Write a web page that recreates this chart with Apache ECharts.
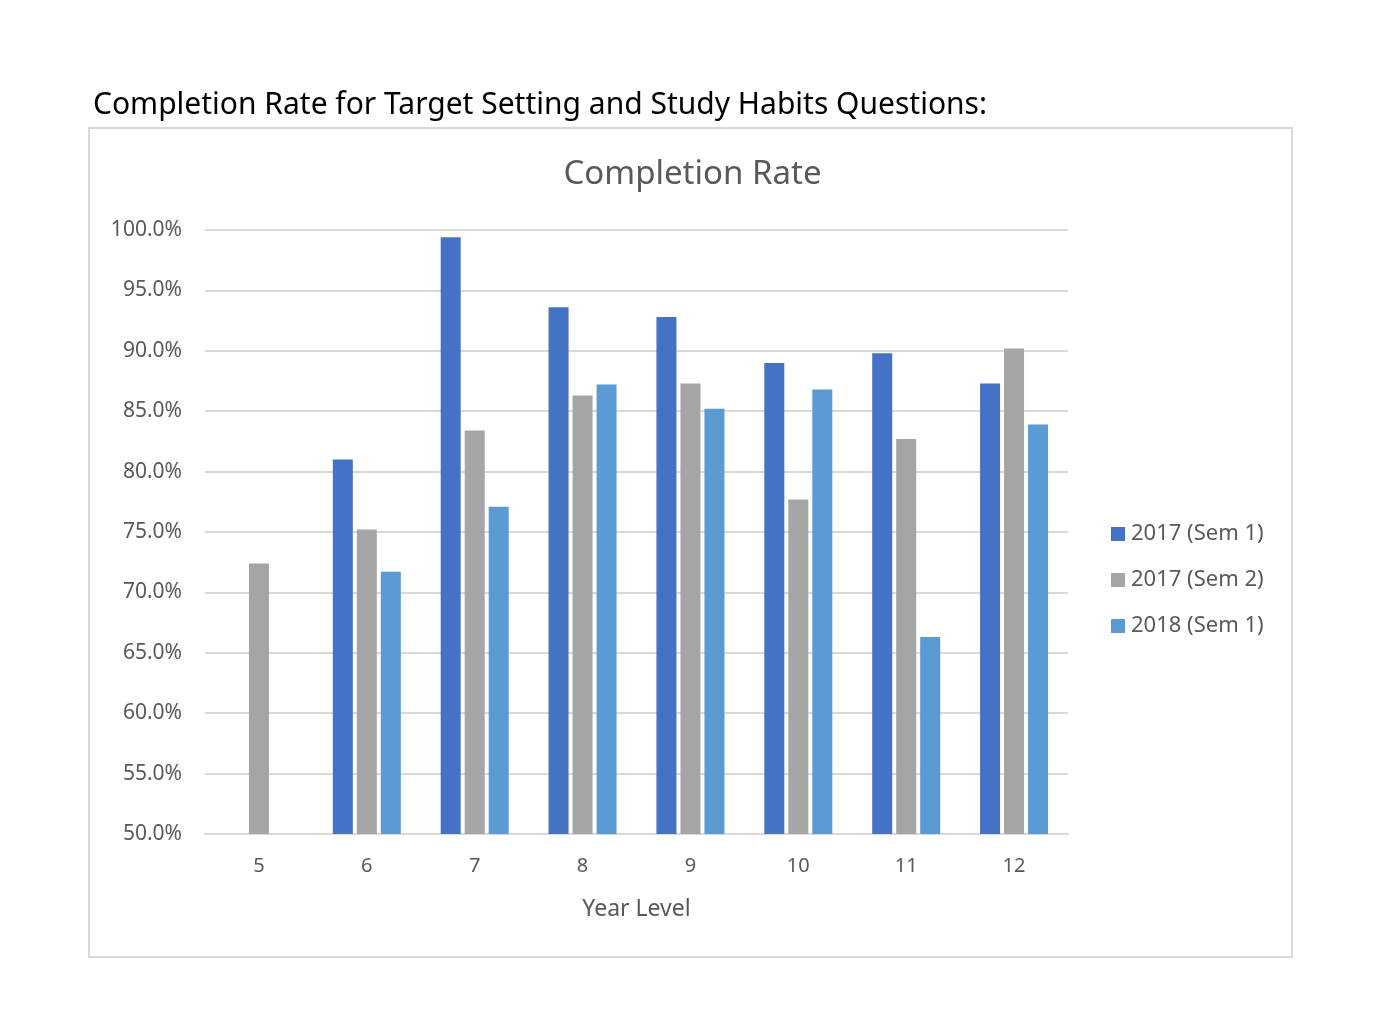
<!DOCTYPE html>
<html>
<head>
<meta charset="utf-8">
<script src="https://cdn.jsdelivr.net/npm/echarts@6/dist/echarts.min.js"></script>
<style>
html,body{margin:0;padding:0;background:#fff;}
#chart{width:1385px;height:1027px;}
</style>
</head>
<body>
<div id="chart"></div>
<script>
const categories = ['5','6','7','8','9','10','11','12'];
const sem1_2017 = [null, 81.0, 99.4, 93.6, 92.8, 89.0, 89.8, 87.3];
const sem2_2017 = [72.4, 75.2, 83.4, 86.3, 87.3, 77.7, 82.7, 90.2];
const sem1_2018 = [null, 71.7, 77.1, 87.2, 85.2, 86.8, 66.3, 83.9];
const seriesNames = ['2017 (Sem 1)', '2017 (Sem 2)', '2018 (Sem 1)'];
const colors = ['#4472C4', '#A5A5A5', '#5B9BD5'];

const chart = echarts.init(document.getElementById('chart'));
const chartFont = 'Noto Sans, sans-serif';
chart.setOption({
  animation: false,
  backgroundColor: '#fff',
  graphic: [{
    type: 'rect',
    shape: {x: 89, y: 128, width: 1203, height: 829},
    style: {fill: 'none', stroke: '#d9d9d9', lineWidth: 2},
    z: -1
  }],
  title: [{
    text: 'Completion Rate for Target Setting and Study Habits Questions:',
    left: 88, top: 85,
    textStyle: {fontFamily: chartFont, fontWeight: 'normal', fontSize: 30, color: '#000'}
  }, {
    text: 'Completion Rate',
    left: 'center', top: 153,
    textStyle: {fontFamily: chartFont, fontWeight: 'normal', fontSize: 33, color: '#595959'}
  }],
  legend: {
    orient: 'vertical',
    left: 1106, top: 518,
    itemWidth: 14, itemHeight: 14, itemGap: 24,
    icon: 'rect',
    textStyle: {fontFamily: chartFont, fontSize: 22, color: '#595959', padding: [0,0,0,1]},
    data: seriesNames
  },
  grid: {left: 205, right: 317, top: 230, bottom: 193},
  xAxis: {
    type: 'category',
    data: categories,
    name: 'Year Level',
    nameLocation: 'middle',
    nameGap: 64,
    nameTextStyle: {fontFamily: chartFont, fontSize: 23, color: '#595959'},
    axisLine: {lineStyle: {color: '#d9d9d9', width: 2}},
    axisTick: {show: false},
    axisLabel: {fontFamily: chartFont, fontSize: 20, color: '#595959', margin: 22}
  },
  yAxis: {
    type: 'value',
    min: 50, max: 100, interval: 5,
    axisLine: {show: false},
    axisTick: {show: false},
    splitLine: {lineStyle: {color: '#d9d9d9', width: 2}},
    axisLabel: {fontFamily: chartFont, fontSize: 21, color: '#595959', margin: 23,
      formatter: v => v.toFixed(1) + '%'}
  },
  series: [sem1_2017, sem2_2017, sem1_2018].map((d, i) => ({
    name: seriesNames[i],
    type: 'bar',
    data: d,
    barWidth: 20,
    barGap: '20%',
    itemStyle: {color: colors[i]}
  }))
});
</script>
</body>
</html>
